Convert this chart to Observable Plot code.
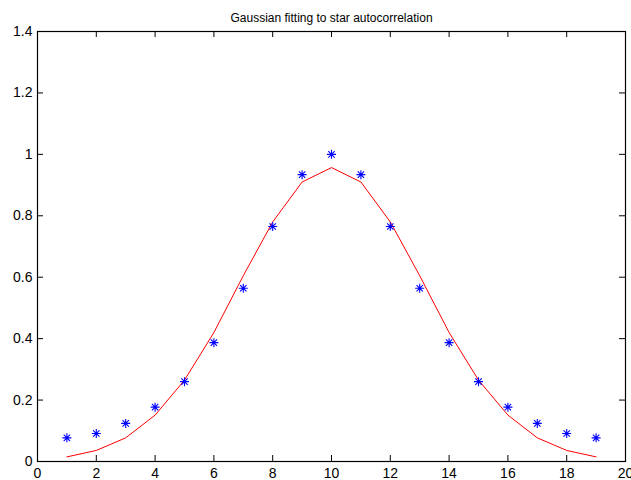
<!DOCTYPE html>
<html>
<head>
<meta charset="utf-8">
<script src="https://cdn.jsdelivr.net/npm/d3@7"></script>
<script src="https://cdn.jsdelivr.net/npm/@observablehq/plot@0.6"></script>
<style>
  html, body { margin: 0; padding: 0; background: white; }
</style>
</head>
<body>
<div id="chart"></div>
<script>
const titleText = "Gaussian fitting to star autocorrelation";
const xs = [1,2,3,4,5,6,7,8,9,10,11,12,13,14,15,16,17,18,19];
const observed = [0.077,0.091,0.124,0.177,0.260,0.387,0.564,0.765,0.934,1.000,0.934,0.765,0.564,0.387,0.260,0.177,0.124,0.091,0.077];
const fitted = [0.015,0.036,0.077,0.151,0.265,0.420,0.605,0.780,0.910,0.957,0.910,0.780,0.605,0.420,0.265,0.151,0.077,0.036,0.015];
const xTicks = [0,2,4,6,8,10,12,14,16,18,20];
const yTicks = [0,0.2,0.4,0.6,0.8,1.0,1.2,1.4];

const obsData = xs.map((x, i) => ({x, y: observed[i]}));
const fitData = xs.map((x, i) => ({x, y: fitted[i]}));

const W = 631, H = 480;
const mL = 37, mR = 6, mT = 31, mB = 19;
const innerW = W - mL - mR, innerH = H - mT - mB;
const tickLen = 6;

const asterisk8 = {
  draw(ctx, size) {
    const r = Math.sqrt(size / Math.PI);
    const d = r * Math.SQRT1_2;
    ctx.moveTo(-r, 0); ctx.lineTo(r, 0);
    ctx.moveTo(0, -r); ctx.lineTo(0, r);
    ctx.moveTo(-d, -d); ctx.lineTo(d, d);
    ctx.moveTo(-d, d); ctx.lineTo(d, -d);
  }
};

const chart = Plot.plot({
  width: W,
  height: H,
  marginLeft: mL,
  marginRight: mR,
  marginTop: mT,
  marginBottom: mB,
  style: {fontFamily: "'Liberation Sans', Arial, Helvetica, sans-serif", fontSize: "14px", background: "white", color: "black"},
  x: {domain: [0, 20]},
  y: {domain: [0, 1.4]},
  marks: [
    Plot.line(fitData, {x: "x", y: "y", stroke: "red", strokeWidth: 1}),
    Plot.dot(obsData, {x: "x", y: "y", symbol: asterisk8, r: 4.5, stroke: "blue", fill: "none", strokeWidth: 1.1}),
    Plot.tickX(xTicks, {x: d => d, stroke: "black", insetTop: innerH - tickLen}),
    Plot.tickX(xTicks, {x: d => d, stroke: "black", insetBottom: innerH - tickLen}),
    Plot.tickY(yTicks, {y: d => d, stroke: "black", insetRight: innerW - tickLen}),
    Plot.tickY(yTicks, {y: d => d, stroke: "black", insetLeft: innerW - tickLen}),
    Plot.frame({stroke: "black", strokeWidth: 1.2}),
    Plot.axisX({ticks: xTicks, tickSize: 0, tickPadding: 7, label: null, fontSize: 14}),
    Plot.axisY({ticks: yTicks, tickSize: 0, tickPadding: 5, label: null, fontSize: 14, tickFormat: d => String(+d.toFixed(1))}),
    Plot.text([titleText], {text: d => d, frameAnchor: "top", dy: -18, fontSize: 12, fill: "black"})
  ]
});
document.getElementById("chart").appendChild(chart);
</script>
</body>
</html>
